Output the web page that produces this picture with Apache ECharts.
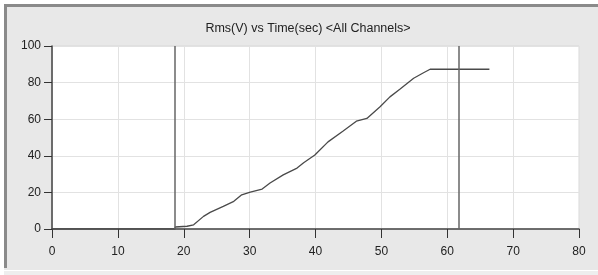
<!DOCTYPE html>
<html>
<head>
<meta charset="utf-8">
<script src="https://cdn.jsdelivr.net/npm/echarts@6/dist/echarts.min.js"></script>
<style>
html, body { margin: 0; padding: 0; background: #ffffff; }
#chartBox { width: 598px; height: 275px; }
</style>
</head>
<body>
<div id="chartBox"></div>
<script>
// time (sec) and rms (V)
var timeSec = [0, 18.7, 18.7, 20.5, 21.5, 23, 24, 26, 27.6, 28.8, 30.1, 31.9, 33.1, 35.1, 37.2, 38.2, 39.9, 41.9, 44.2, 46.2, 47.8, 49.8, 51.3, 52.8, 54.9, 56.4, 57.4, 66.4];
var rmsV = [0, 0, 1.1, 1.5, 2.3, 6.9, 9.1, 12.4, 15.1, 18.7, 20.2, 21.8, 25.1, 29.6, 33.3, 36.2, 40.4, 47.6, 53.5, 58.9, 60.4, 66.8, 72.2, 76.4, 82.4, 85.4, 87.3, 87.3];
var cursors = [18.7, 61.8];
var xTicks = [0, 10, 20, 30, 40, 50, 60, 70, 80];
var yTicks = [0, 20, 40, 60, 80, 100];

var chartDom = document.getElementById("chartBox");
var myChart = echarts.init(chartDom);

var points = timeSec.map(function (t, i) { return [t, rmsV[i]]; });

var option = {
    animation: false,
    backgroundColor: '#ffffff',
    graphic: [
        // panel
        { type: 'rect', shape: { x: 4, y: 4, width: 594, height: 266 }, style: { fill: '#e8e8e8' }, z: -10 },
        { type: 'rect', shape: { x: 4, y: 4, width: 594, height: 3 }, style: { fill: '#8a8a8a' }, z: -9 },
        { type: 'rect', shape: { x: 4, y: 4, width: 3, height: 264 }, style: { fill: '#8a8a8a' }, z: -9 },
        { type: 'rect', shape: { x: 4, y: 270, width: 594, height: 1 }, style: { fill: '#ffffff' }, z: -9 },
        { type: 'rect', shape: { x: 4, y: 271, width: 594, height: 4 }, style: { fill: '#eeeeee' }, z: -9 }
    ],
    title: {
        text: 'Rms(V) vs Time(sec) <All Channels>',
        left: 303,
        textAlign: 'center',
        top: 17,
        textStyle: {
            fontFamily: 'Liberation Sans',
            fontSize: 12.5,
            fontWeight: 'normal',
            color: '#222222'
        }
    },
    grid: {
        left: 52,
        right: 19,
        top: 46,
        bottom: 46,
        show: true,
        backgroundColor: '#ffffff',
        borderColor: '#d8d8d8',
        borderWidth: 1
    },
    xAxis: {
        type: 'value',
        min: 0,
        max: 80,
        interval: 10,
        axisLine: { show: true, onZero: false, lineStyle: { color: '#444444', width: 1.5 } },
        axisTick: { show: true, length: 9, lineStyle: { color: '#333333' } },
        axisLabel: {
            margin: 17,
            color: '#222222',
            fontFamily: 'Liberation Sans',
            fontSize: 12,
            formatter: function (v) { return xTicks.indexOf(v) >= 0 ? String(v) : ''; }
        },
        splitLine: { show: true, lineStyle: { color: '#e2e2e2' } }
    },
    yAxis: {
        type: 'value',
        min: 0,
        max: 100,
        interval: 20,
        axisLine: { show: true, onZero: false, lineStyle: { color: '#444444', width: 1.5 } },
        axisTick: { show: true, length: 8, lineStyle: { color: '#333333' } },
        axisLabel: {
            margin: 11,
            color: '#222222',
            fontFamily: 'Liberation Sans',
            fontSize: 12,
            formatter: function (v) { return yTicks.indexOf(v) >= 0 ? String(v) : ''; }
        },
        splitLine: { show: true, lineStyle: { color: '#e2e2e2' } }
    },
    series: [
        {
            type: 'line',
            data: points,
            showSymbol: false,
            lineStyle: { color: '#4a4a4a', width: 1.3 },
            markLine: {
                silent: true,
                symbol: 'none',
                label: { show: false },
                lineStyle: { color: '#666666', width: 1.5, type: 'solid' },
                data: cursors.map(function (c) { return { xAxis: c }; })
            }
        }
    ]
};
myChart.setOption(option);
</script>
</body>
</html>
